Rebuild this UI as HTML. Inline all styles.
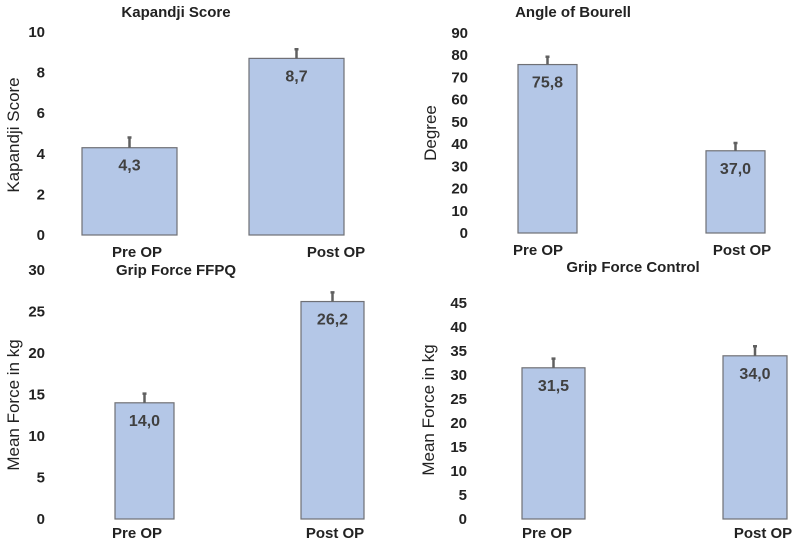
<!DOCTYPE html>
<html><head><meta charset="utf-8"><style>
html,body{margin:0;padding:0;background:#fff}
svg{display:block;font-family:"Liberation Sans",sans-serif}
</style></head><body>
<svg id="c" width="796" height="540" viewBox="0 0 796 540" xmlns="http://www.w3.org/2000/svg"></svg>
<script>
const categories = ["Pre OP", "Post OP"];
const kapandjiValues = [4.3, 8.7];
const kapandjiErrors = [0.5, 0.45];
const kapandjiLabels = ["4,3", "8,7"];
const kapandjiTicks = [0, 2, 4, 6, 8, 10];
const bourellValues = [75.8, 37.0];
const bourellErrors = [3.5, 3.5];
const bourellLabels = ["75,8", "37,0"];
const bourellTicks = [0, 10, 20, 30, 40, 50, 60, 70, 80, 90];
const ffpqValues = [14.0, 26.2];
const ffpqErrors = [1.1, 1.1];
const ffpqLabels = ["14,0", "26,2"];
const ffpqTicks = [0, 5, 10, 15, 20, 25, 30];
const controlValues = [31.5, 34.0];
const controlErrors = [1.9, 2.0];
const controlLabels = ["31,5", "34,0"];
const controlTicks = [0, 5, 10, 15, 20, 25, 30, 35, 40, 45];

const svg = document.getElementById('c');
const NS = 'http://www.w3.org/2000/svg';
function mk(tag, attrs, parent, text) {
  const e = document.createElementNS(NS, tag);
  for (const k in attrs) e.setAttribute(k, attrs[k]);
  if (text !== undefined) e.textContent = text;
  parent.appendChild(e);
  return e;
}

function panel(p) {
  const g = mk('g', {}, svg);
  
  
  const max = p.ticks[p.ticks.length - 1];
  const y = v => p.y0 - (v / max) * (p.y0 - p.yTop);
  const t = mk('text', {x: p.titleX, y: p.titleY, 'text-anchor': 'middle', 'font-size': 15, 'font-weight': 'bold', fill: '#222'}, g, p.title);
  
  
  const yt = mk('text', {x: 0, y: 0, transform: `translate(${p.ytX},${p.ytY}) rotate(-90)`, 'text-anchor': 'middle', 'font-size': 17, fill: '#222'}, g, p.ytitle);
  
  
  p.ticks.forEach(v => {
    const tk = mk('text', {x: p.tickX, y: y(v) + 5, 'text-anchor': 'end', 'font-size': 15, 'font-weight': 'bold', fill: '#222'}, g, String(v));
    
    
  });
  categories.forEach((c, i) => {
    const v = p.values[i];
    const bx = p.barX[i], bw = p.barW[i];
    const r = mk('rect', {x: bx, y: y(v), width: bw, height: p.y0 - y(v), fill: '#b4c7e7', stroke: '#6f7075', 'stroke-width': 1.2}, g);
    
    
    const cx = bx + bw / 2;
    const top = y(v + p.errors[i]);
    const eb = mk('path', {d: `M${cx},${y(v)}V${top}M${cx - 2},${top}H${cx + 2}`, stroke: '#606060', 'stroke-width': 2.5, fill: 'none'}, g);
    
    
    const vl = mk('text', {x: cx, y: y(v) + 23, 'text-anchor': 'middle', 'font-size': 16, 'font-weight': 'bold', fill: '#404040'}, g, p.labels[i]);
    
    
    const xl = mk('text', {x: p.catX[i], y: p.catY, 'text-anchor': 'middle', 'font-size': 15, 'font-weight': 'bold', fill: '#222'}, g, c);
    
    
  });
}

panel({id: 'kapandji', title: 'Kapandji Score', ytitle: 'Kapandji Score', ticks: kapandjiTicks, values: kapandjiValues, errors: kapandjiErrors, labels: kapandjiLabels,
  y0: 235, yTop: 32, tickX: 45, barX: [82, 249], barW: [95, 95], titleX: 176, titleY: 17, ytX: 19, ytY: 135, catX: [137, 336], catY: 257});
panel({id: 'bourell', title: 'Angle of Bourell', ytitle: 'Degree', ticks: bourellTicks, values: bourellValues, errors: bourellErrors, labels: bourellLabels,
  y0: 233, yTop: 33, tickX: 468, barX: [518, 706], barW: [59, 59], titleX: 573, titleY: 17, ytX: 436, ytY: 133, catX: [538, 742], catY: 255});
panel({id: 'ffpq', title: 'Grip Force FFPQ', ytitle: 'Mean Force in kg', ticks: ffpqTicks, values: ffpqValues, errors: ffpqErrors, labels: ffpqLabels,
  y0: 519, yTop: 270, tickX: 45, barX: [115, 301], barW: [59, 63], titleX: 176, titleY: 275, ytX: 19, ytY: 405, catX: [137, 335], catY: 538});
panel({id: 'control', title: 'Grip Force Control', ytitle: 'Mean Force in kg', ticks: controlTicks, values: controlValues, errors: controlErrors, labels: controlLabels,
  y0: 519, yTop: 303, tickX: 467, barX: [522, 723], barW: [63, 64], titleX: 633, titleY: 272, ytX: 434, ytY: 410, catX: [547, 763], catY: 538});
</script>
</body></html>
